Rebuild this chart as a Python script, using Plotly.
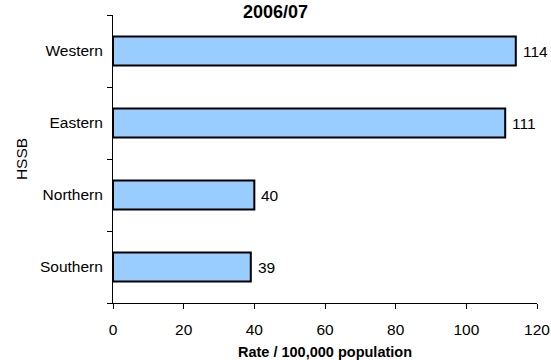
import plotly.graph_objects as go

# Rates per 100,000 population by HSSB, 2006/07
regions = ["Southern", "Northern", "Eastern", "Western"]
rates = [39, 40, 111, 114]
x_ticks = [0, 20, 40, 60, 80, 100, 120]

FONT = "Liberation Sans, Arial, sans-serif"
SIZE = 15.5

fig = go.Figure(
    go.Bar(
        x=rates,
        y=regions,
        orientation="h",
        width=0.4,
        marker=dict(color="#99CCFF", line=dict(color="black", width=2)),
        hoverinfo="skip",
    )
)

# value labels just past the end of each bar
value_labels = [
    dict(
        x=v, y=r, xref="x", yref="y",
        text=str(v), showarrow=False,
        xanchor="left", yanchor="middle", xshift=5,
        font=dict(family=FONT, size=SIZE, color="black"),
    )
    for r, v in zip(regions, rates)
]

title = dict(
    text="<b>2006/07</b>",
    xref="paper", yref="paper",
    x=(275.5 - 113) / 424, y=1 + 15 / 288,
    xanchor="center", yanchor="top",
    showarrow=False,
    font=dict(family=FONT, size=18, color="black"),
)

fig.update_layout(
    width=551,
    height=360,
    margin=dict(l=113, r=14, t=15, b=57, autoexpand=False),
    paper_bgcolor="white",
    plot_bgcolor="white",
    showlegend=False,
    font=dict(family=FONT, size=SIZE, color="black"),
    annotations=value_labels + [title],
)

fig.update_xaxes(
    range=[0, 120],
    tickvals=x_ticks,
    ticks="outside",
    ticklen=5,
    tickcolor="black",
    showline=True,
    linecolor="black",
    linewidth=1,
    showgrid=False,
    zeroline=False,
    automargin=False,
    ticklabelstandoff=7,
    tickfont=dict(family=FONT, size=SIZE, color="black"),
    title=dict(
        text="<b>Rate / 100,000 population</b>",
        font=dict(family=FONT, size=14.5, color="black"),
        standoff=26,
    ),
)

fig.update_yaxes(
    type="category",
    categoryorder="array",
    categoryarray=regions,
    range=[-0.5, 3.5],
    tickson="boundaries",
    ticks="outside",
    ticklen=5,
    tickcolor="black",
    showline=True,
    linecolor="black",
    linewidth=1,
    showgrid=False,
    zeroline=False,
    automargin=False,
    ticklabelstandoff=6,
    tickfont=dict(family=FONT, size=SIZE, color="black"),
    title=dict(
        text="HSSB",
        font=dict(family=FONT, size=SIZE, color="black"),
        standoff=8,
    ),
)

fig.write_html("out.html")
